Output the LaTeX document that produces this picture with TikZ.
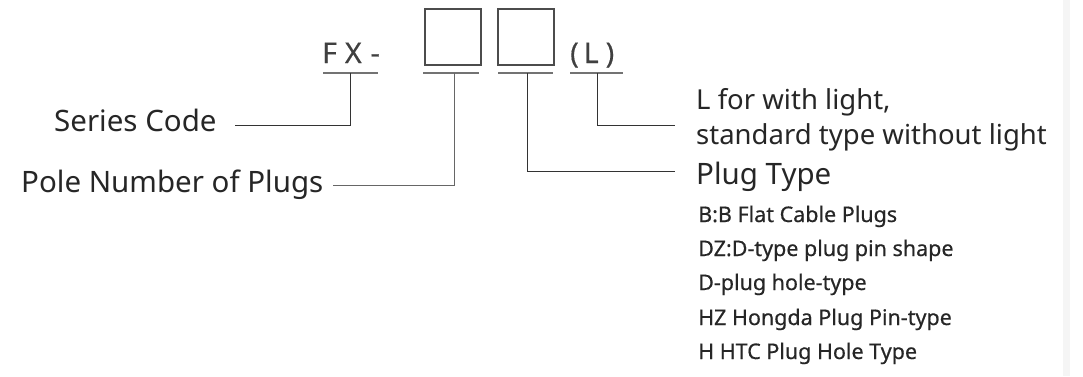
\documentclass[tikz,border=0pt]{standalone}
\usepackage{fontspec}
\setmainfont{Noto Sans}
\newfontfamily\heavysans[FakeBold=0.5]{Noto Sans}
\begin{document}
\begin{tikzpicture}[x=1pt,y=-1pt,
  lbl/.style={anchor=base west,inner sep=0pt,text=black!85},
  big/.style={lbl,font=\fontsize{29.5}{32}\selectfont},
  mid/.style={lbl,font=\fontsize{27.5}{30}\selectfont},
  small/.style={lbl,font=\heavysans\fontsize{21.5}{24}\selectfont},
  code/.style={anchor=base west,inner sep=0pt,text=black!75,font=\heavysans\fontsize{28.5}{30}\selectfont},
  slot/.style={draw=black!70,line width=1.1pt,minimum width=56pt,minimum height=56pt,inner sep=0pt},
  ul/.style={draw=black!55,line width=1.2pt},
  conn/.style={draw=black!80,line width=1pt}]
\useasboundingbox (0,0) rectangle (1083,376);
\fill[black!4] (1063,0) rectangle (1070,376);
% code
\node[code] (fx) at (322,63) {F\hspace{8pt}X\hspace{9pt}-};
\node[slot] (b1) at (453,37) {};
\node[slot] (b2) at (526,37) {};
\node[code] (lp) at (570,63) {(\hspace{5pt}L\hspace{7pt})};
% underlines
\coordinate (u1a) at (323,73); \coordinate (u1b) at (378,73);
\coordinate (u2a) at (423,73); \coordinate (u2b) at (479,73);
\coordinate (u3a) at (498,73); \coordinate (u3b) at (553,73);
\coordinate (u4a) at (570,73); \coordinate (u4b) at (623,73);
\path[ul] (u1a) -- (u1b) (u2a) -- (u2b) (u3a) -- (u3b) (u4a) -- (u4b);
% labels
\node[big] (sc) at (54,131) {Series Code};
\node[big] (pn) at (21,192) {Pole Number of Plugs};
\node[mid] (l1) at (696,109) {L for with light,};
\node[mid] (l2) at (696,144) {standard type without light};
\node[big] (pt) at (696,184) {Plug Type};
\node[small] (t1) at (698,222) {B:B Flat Cable Plugs};
\node[small] (t2) at (698,256) {DZ:D-type plug pin shape};
\node[small] (t3) at (698,290) {D-plug hole-type};
\node[small] (t4) at (698,325) {HZ Hongda Plug Pin-type};
\node[small] (t5) at (698,359) {H HTC Plug Hole Type};
% connectors
\coordinate (c1) at (350,73); \coordinate (e1) at (235,125);
\coordinate (c2) at (454,73); \coordinate (e2) at (333,185);
\coordinate (c3) at (527,73); \coordinate (e3) at (675,171);
\coordinate (c4) at (597,73); \coordinate (e4) at (675,125);
\draw[conn] (c1) |- (e1);
\draw[conn,draw=black!60] (c2) |- (e2);
\draw[conn] (c3) |- (e3);
\draw[conn] (c4) |- (e4);
\end{tikzpicture}
\end{document}
